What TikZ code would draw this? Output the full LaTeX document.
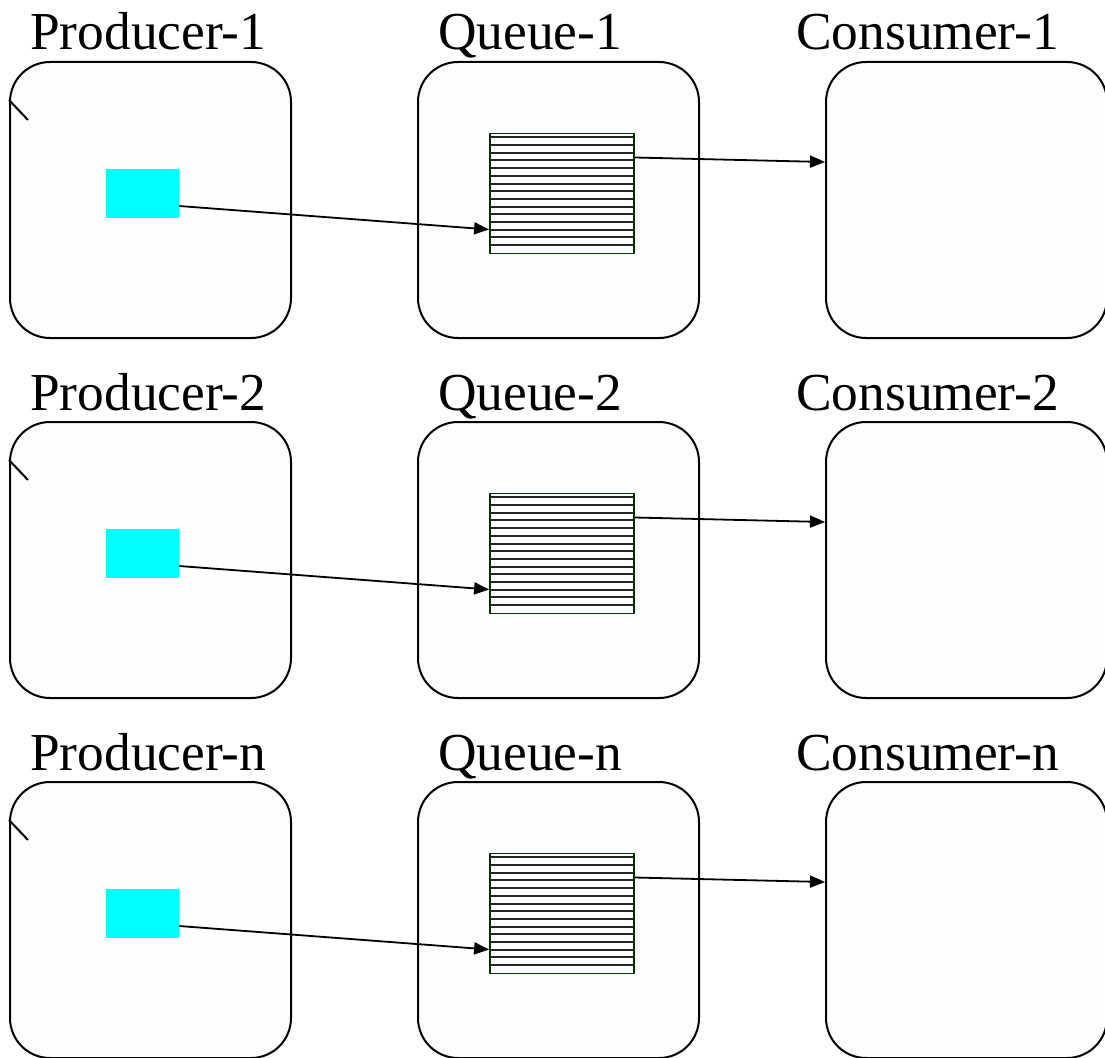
\documentclass[tikz,border=0pt]{standalone}
\usepackage{fontspec}
\setmainfont{Liberation Serif}
\usetikzlibrary{arrows.meta}
\definecolor{cyanfill}{RGB}{0,255,255}
\definecolor{queueedge}{RGB}{0,51,0}
\definecolor{panelfill}{RGB}{254,254,254}
\tikzset{
  panel/.style={draw=black, fill=panelfill, line width=2pt, rounded corners=40pt,
    minimum width=281pt, minimum height=276pt, inner sep=0pt},
  item/.style={fill=cyanfill, minimum width=73pt, minimum height=49pt, inner sep=0pt},
  buffer/.style={draw=queueedge, fill=white, line width=1.8pt,
    minimum width=144pt, minimum height=120pt, inner sep=0pt},
  title/.style={anchor=base west, inner sep=0pt, font=\fontsize{53.4}{60}\selectfont},
  flow/.style={line width=1.8pt, -{Triangle[length=15pt,width=12pt]}},
  slot/.style={line width=2pt, black!85},
}
\begin{document}
\begin{tikzpicture}[x=1pt,y=-1pt]
\useasboundingbox (0,0) rectangle (1105,1057);
\clip (0,0) rectangle (1105,1057);
\foreach \i [count=\r from 0] in {1,2,n} {
  \pgfmathsetmacro{\dy}{-360*\r}
  \begin{scope}[yshift=\dy pt]
    % titles
    \node[title] (plab\i) at (30,50) {Producer-\i};
    \node[title] (qlab\i) at (438,50) {Queue-\i};
    \node[title] (clab\i) at (796,50) {Consumer-\i};
    % panels
    \node[panel] (prod\i) at (150.5,200) {};
    \node[panel] (qpan\i) at (558.5,200) {};
    \node[panel] (cons\i) at (966.5,200) {};
    % small tick on the producer panel
    \draw[line width=2pt] ([yshift=100pt]prod\i.west) -- ++(19,20);
    % produced item
    \node[item] (item\i) at (142.5,193.5) {};
    % queue buffer with its slots
    \node[buffer] (queue\i) at (562,193.5) {};
    \foreach \k in {0,...,14}
      \draw[slot] (491,137.3+7.7*\k) -- (633,137.3+7.7*\k);
    % flows
    \draw[flow] ([yshift=-12.5pt]item\i.east) -- ([yshift=-36pt]queue\i.west);
    \draw[flow] ([yshift=36pt]queue\i.east) -- ([yshift=38pt]cons\i.west);
  \end{scope}
}
\end{tikzpicture}
\end{document}
